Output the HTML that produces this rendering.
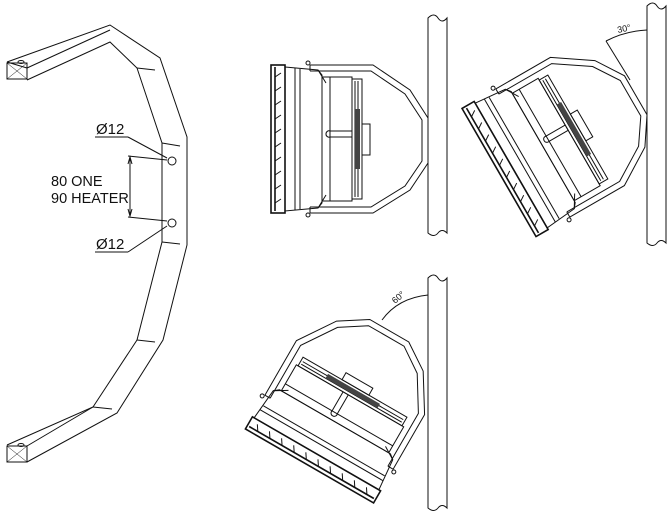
<!DOCTYPE html>
<html><head><meta charset="utf-8"><style>
html,body{margin:0;padding:0;background:#fff;}
svg{display:block;}
text{font-family:"Liberation Sans","DejaVu Sans",sans-serif;fill:#111;}
</style></head><body>
<svg width="671" height="515" viewBox="0 0 671 515" xmlns="http://www.w3.org/2000/svg">
<defs>
<g id="unit" fill="none" stroke="#111" stroke-width="1">
  <!-- bracket -->
  <polyline points="-118,-74 -55,-74 -18,-49 0,-21 0,24 -18,51 -55,74 -118,74"/>
  <polyline points="-118,-68 -57,-68 -23,-45 -6,-19 -6,22 -23,47 -57,68 -118,68"/>
  <line x1="-118" y1="-74" x2="-118" y2="-68"/><line x1="-118" y1="74" x2="-118" y2="68"/>
  <circle cx="-120" cy="-76" r="2"/><circle cx="-120" cy="76" r="2"/>
  <!-- front grille -->
  <rect x="-157" y="-74" width="14" height="148" stroke-width="1.6"/>
  <line x1="-153" y1="-72" x2="-153" y2="72" stroke-width="1.6"/>
  <path d="M-153,-62 l6,-4 M-153,-48 l6,-4 M-153,-34 l6,-4 M-153,-20 l6,-4 M-153,-6 l6,-4 M-153,8 l6,-4 M-153,22 l6,-4 M-153,36 l6,-4 M-153,50 l6,-4 M-153,64 l6,-4"/>
  <!-- body -->
  <path d="M-143,-72 L-110,-69 L-106,-64 L-106,64 L-110,69 L-143,72 Z"/>
  <line x1="-133" y1="-71" x2="-133" y2="71"/>
  <line x1="-128" y1="-70" x2="-128" y2="70"/>
  <path d="M-110,-69 L-102,-56 M-110,69 L-102,56"/>
  <rect x="-106" y="-62" width="30" height="124"/>
  <line x1="-98" y1="-62" x2="-98" y2="62"/>
  <path d="M-98,-8 h22 M-98,-2 h22 M-102,-5 a3,3 0 0 1 4,-3 M-102,-5 a3,3 0 0 0 4,3"/>
  <!-- fins -->
  <rect x="-76" y="-60" width="10" height="120"/>
  <line x1="-73" y1="-58" x2="-73" y2="58"/><line x1="-70" y1="-58" x2="-70" y2="58"/>
  <rect x="-73" y="-30" width="5" height="60" fill="#444" stroke="none"/>
  <rect x="-66" y="-15" width="8" height="31"/>
</g>
</defs>

<!-- left bracket -->
<g fill="none" stroke="#111" stroke-width="1">
  <polyline points="7,62 110,25 160,58 187,137 187,245 163,340 117,413 27,462"/>
  <polyline points="27,80 110,42 137,68 162,143 162,242 137,340 93,407 7,445"/>
  <line x1="7" y1="62" x2="27" y2="68"/>
  <line x1="27" y1="68" x2="110" y2="30"/>
  <rect x="7" y="63" width="20" height="16"/>
  <path d="M7,63 L27,79 M27,63 L7,79" stroke-width="0.5"/>
  <ellipse cx="21" cy="62" rx="3" ry="1.5"/>
  <line x1="137" y1="68" x2="155" y2="70"/>
  <line x1="162" y1="143" x2="180" y2="146"/>
  <line x1="162" y1="242" x2="180" y2="244"/>
  <line x1="137" y1="340" x2="155" y2="342"/>
  <line x1="93" y1="407" x2="112" y2="409"/>
  <rect x="7" y="446" width="20" height="16"/>
  <path d="M7,446 L27,462 M27,446 L7,462" stroke-width="0.5"/>
  <ellipse cx="21" cy="445" rx="3" ry="1.5"/>
  <line x1="27" y1="446" x2="93" y2="407"/>
  <circle cx="172" cy="161" r="4"/>
  <circle cx="172" cy="223" r="4"/>
  <!-- dimensions -->
  <line x1="128" y1="156" x2="167" y2="160"/>
  <line x1="128" y1="217" x2="167" y2="221"/>
  <line x1="130" y1="157" x2="130" y2="216"/>
  <path d="M128,164 L130,157 L132,164 M128,209 L130,216 L132,209" />
  <line x1="95" y1="137" x2="128" y2="137"/>
  <line x1="128" y1="137" x2="167" y2="158"/>
  <line x1="95" y1="252" x2="128" y2="252"/>
  <line x1="128" y1="252" x2="167" y2="226"/>
</g>
<text x="96" y="134" font-size="15">Ø12</text>
<text x="96" y="249" font-size="15">Ø12</text>
<text x="51" y="186" font-size="14.5">80 ONE</text>
<text x="51" y="203" font-size="14.5">90 HEATER</text>

<!-- poles -->
<g fill="#fff" stroke="#111" stroke-width="1">
  <path d="M428,18 q6,-6 10,0 t9,0 L447,233 q-5,-5 -9,0 t-10,0 Z"/>
  <path d="M647,6 q6,-6 10,0 t9,0 L666,243 q-5,-5 -9,0 t-10,0 Z"/>
  <path d="M428,278 q6,-6 10,0 t9,0 L447,508 q-5,-5 -9,0 t-10,0 Z"/>
</g>

<!-- units -->
<use href="#unit" transform="translate(428,139)"/>
<use href="#unit" transform="translate(635,94) rotate(-30)"/>
<use href="#unit" transform="translate(388,330) rotate(-60)"/>

<!-- angles -->
<g fill="none" stroke="#111" stroke-width="1">
  <path d="M606,41 Q625,31 647,30"/>
  <line x1="606" y1="41" x2="630" y2="80"/>
  <path d="M382,320 Q398,298 428,295"/>
</g>
<text x="618" y="33" font-size="9" fill="#555" transform="rotate(-12 618 33)">30°</text>
<text x="395" y="304" font-size="9" fill="#555" transform="rotate(-40 395 304)">60°</text>
</svg>
</body></html>
